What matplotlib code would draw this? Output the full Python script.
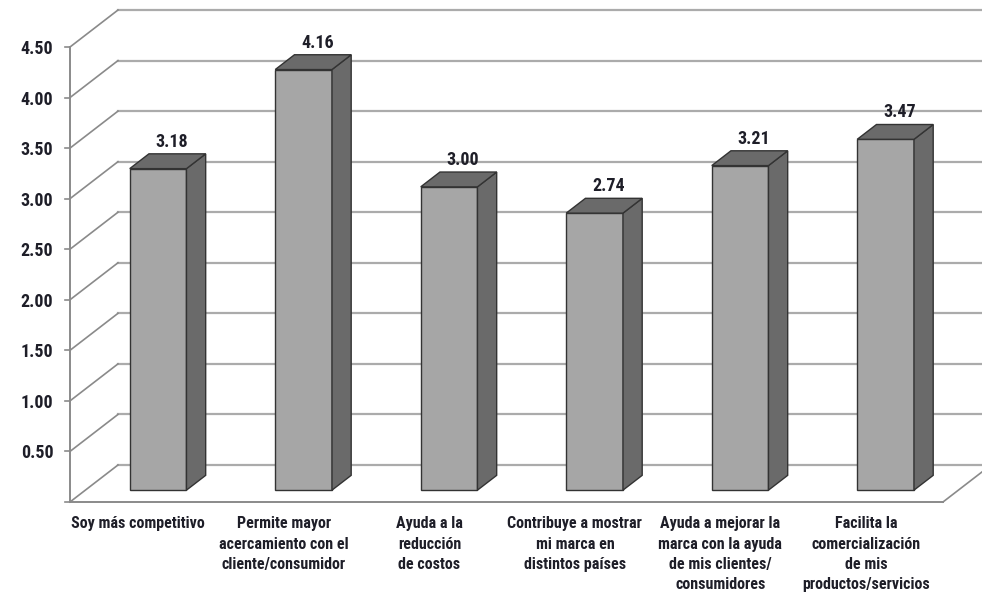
import matplotlib
matplotlib.use("Agg")
import matplotlib.pyplot as plt
from matplotlib import font_manager
import numpy as np

categories = [
    "Soy más competitivo",
    "Permite mayor\nacercamiento con el\ncliente/consumidor",
    "Ayuda a la\nreducción\nde costos",
    "Contribuye a mostrar\nmi marca en\ndistintos países",
    "Ayuda a mejorar la\nmarca con la ayuda\nde mis clientes/\nconsumidores",
    "Facilita la\ncomercialización\nde mis\nproductos/servicios",
]
values = [3.18, 4.16, 3.00, 2.74, 3.21, 3.47]
yticks = [0.5, 1.0, 1.5, 2.0, 2.5, 3.0, 3.5, 4.0, 4.5]

# condensed font, close to the narrow face of the original
names = {f.name for f in font_manager.fontManager.ttflist}
family = 'DejaVu Sans'
for cand in ['Roboto Condensed', 'PT Sans Narrow', 'Open Sans Condensed', 'Liberation Sans Narrow']:
    if cand in names:
        family = cand
        break
plt.rcParams['font.family'] = [family, 'DejaVu Sans']
plt.rcParams['font.stretch'] = 'condensed'
txt = '#1e1e28'

fig = plt.figure(figsize=(9.82, 6.04), dpi=100)
ax = fig.add_axes([0, 0, 1, 1])
ax.set_xlim(-0.481, 6.268)
ax.set_ylim(-1.009, 4.965)
ax.axis('off')

# oblique depth offset (data units)
DX, DY = 0.33, 0.366
f0, f1 = 0.32, 0.72
bw = 0.39
n = len(values)

def P(x, v, f):
    return (x + f * DX, v + f * DY)

# back wall gridlines and left wall diagonals
for v in [0] + yticks:
    ax.plot([DX, 6.5], [v + DY, v + DY], color='#ababab', lw=1.6, zorder=1)
    ax.plot([0, DX], [v, v + DY], color='#8a8a8a', lw=1.2, zorder=1)
    ax.plot([-0.035, 0], [v, v], color='#8a8a8a', lw=1.2, zorder=2)

# front axis and floor
ax.plot([0, 0], [0, yticks[-1]], color='#8a8a8a', lw=1.4, zorder=2)
ax.plot([0, n], [0, 0], color='#8a8a8a', lw=1.4, zorder=2)
ax.plot([n, n + DX], [0, DY], color='#8a8a8a', lw=1.2, zorder=2)

for v in yticks:
    ax.text(-0.115, v - 0.02, f"{v:.2f}", ha='right', va='center', fontsize=13,
            fontweight='bold', color=txt)

# 3D bars
for i, v in enumerate(values):
    xl = i + 0.5 - bw / 2
    xr = i + 0.5 + bw / 2
    front = [P(xl, 0, f0), P(xr, 0, f0), P(xr, v, f0), P(xl, v, f0)]
    side = [P(xr, 0, f0), P(xr, 0, f1), P(xr, v, f1), P(xr, v, f0)]
    top = [P(xl, v, f0), P(xr, v, f0), P(xr, v, f1), P(xl, v, f1)]
    for poly, col in [(front, '#a6a6a6'), (side, '#6a6a6a'), (top, '#6a6a6a')]:
        xs, ys = zip(*poly)
        ax.fill(xs, ys, facecolor=col, edgecolor='#333333', lw=1.0, zorder=5)
    cx, cy = P(i + 0.5, v, f1)
    ax.text(cx - DX * (f1 - f0) / 2 + 0.03, cy + 0.03, f"{v:.2f}", ha='center',
            va='bottom', fontsize=13, fontweight='bold', color=txt, zorder=6)

for i, lab in enumerate(categories):
    ax.text(i + 0.47, -0.14, lab, ha='center', va='top', fontsize=11.5,
            fontweight='bold', color=txt, linespacing=1.45)

fig.savefig("out.png", dpi=100)
